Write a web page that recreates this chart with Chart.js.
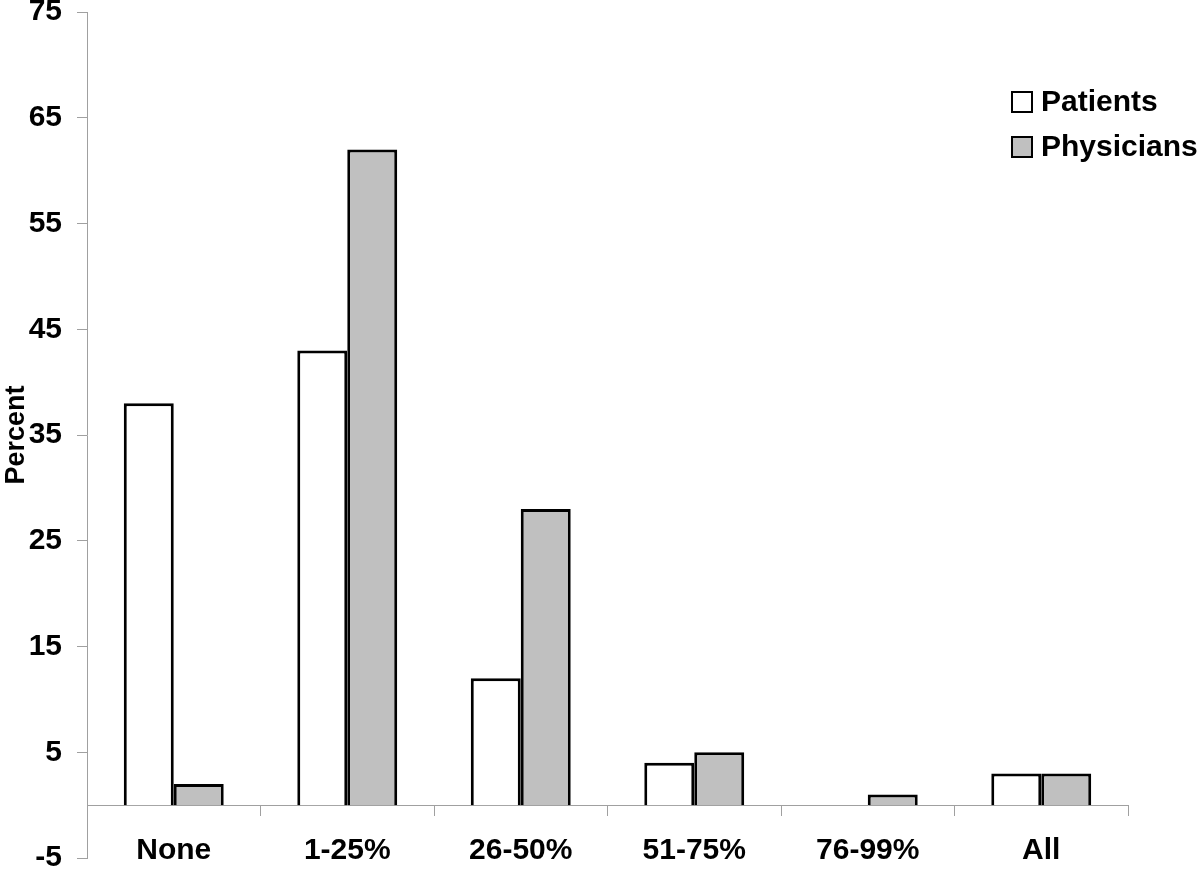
<!DOCTYPE html>
<html>
<head>
<meta charset="utf-8">
<script src="https://cdn.jsdelivr.net/npm/chart.js@4/dist/chart.umd.min.js"></script>
<style>
  html, body { margin: 0; padding: 0; background: #fff; }
  #wrap { width: 1200px; height: 870px; }
</style>
</head>
<body>
<div id="wrap"><canvas id="chart" width="1200" height="870"></canvas></div>
<script>
const categories = ['None', '1-25%', '26-50%', '51-75%', '76-99%', 'All'];
const patients = [38, 43, 12, 4, 0, 3];
const physicians = [2, 62, 28, 5, 1, 3];
const yTicks = [-5, 5, 15, 25, 35, 45, 55, 65, 75];

const FONT = "'Liberation Sans', Arial, sans-serif";

// legend drawn at the top right, over the plot area
const cornerLegend = {
  id: 'cornerLegend',
  afterDraw(chart) {
    const ctx = chart.ctx;
    ctx.save();
    chart.data.datasets.forEach((ds, i) => {
      const y = 92 + i * 45;
      ctx.fillStyle = ds.backgroundColor;
      ctx.fillRect(1012, y, 20, 20);
      ctx.lineWidth = 2;
      ctx.strokeStyle = '#000';
      ctx.strokeRect(1012, y, 20, 20);
      ctx.fillStyle = '#000';
      ctx.font = 'bold 30px ' + FONT;
      ctx.textBaseline = 'middle';
      ctx.textAlign = 'left';
      ctx.fillText(ds.label, 1041, y + 11);
    });
    ctx.restore();
  }
};

new Chart(document.getElementById('chart'), {
  type: 'bar',
  data: {
    labels: categories,
    datasets: [
      {
        label: 'Patients',
        data: patients,
        backgroundColor: '#ffffff',
        borderColor: '#000000',
        borderWidth: 3,
        categoryPercentage: 0.576,
        barPercentage: 1.0
      },
      {
        label: 'Physicians',
        data: physicians,
        backgroundColor: '#c0c0c0',
        borderColor: '#000000',
        borderWidth: 3,
        categoryPercentage: 0.576,
        barPercentage: 1.0
      }
    ]
  },
  options: {
    responsive: false,
    animation: false,
    layout: { padding: { top: 0, bottom: 0, right: 72, left: 0 } },
    plugins: {
      legend: { display: false },
      tooltip: { enabled: false }
    },
    scales: {
      x: {
        position: { y: 0 },
        border: { color: '#a0a0a0', width: 1 },
        grid: {
          offset: true,
          drawOnChartArea: false,
          drawTicks: true,
          tickLength: 10,
          color: '#a0a0a0'
        },
        ticks: {
          color: '#000',
          padding: 18,
          font: { family: FONT, size: 30, weight: 'bold' }
        }
      },
      y: {
        min: -5,
        max: 75,
        afterBuildTicks(scale) {
          scale.ticks = yTicks.map(v => ({ value: v }));
        },
        afterFit(scale) {
          scale.width = 87;
          // plot runs from y=12 to y=858
          scale.paddingTop = 12;
          scale.paddingBottom = 12;
        },
        border: { color: '#a0a0a0', width: 1 },
        grid: {
          drawOnChartArea: false,
          drawTicks: true,
          tickLength: 10,
          color: '#a0a0a0'
        },
        ticks: {
          color: '#000',
          padding: 15,
          font: { family: FONT, size: 30, weight: 'bold' }
        },
        title: {
          display: true,
          text: 'Percent',
          color: '#000',
          padding: { top: 0, bottom: 0 },
          font: { family: FONT, size: 27, weight: 'bold' }
        }
      }
    }
  },
  plugins: [cornerLegend]
});
</script>
</body>
</html>
